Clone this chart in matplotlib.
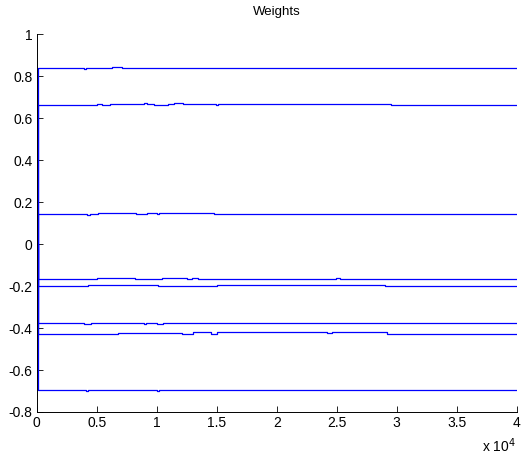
import matplotlib
matplotlib.use("Agg")
import matplotlib.pyplot as plt

plt.rcParams['font.family'] = ['Liberation Sans', 'DejaVu Sans']

# step breakpoints (iteration, weight)
w1_x = [0, 80, 3950, 4100, 6250, 7100, 40000]
w1_y = [0.0, 0.838, 0.835, 0.838, 0.842, 0.838, 0.838]

w2_x = [0, 80, 5000, 5400, 6100, 8900, 9200, 9800, 10900, 11400, 12200, 14900, 15100, 29500, 40000]
w2_y = [0.0, 0.665, 0.669, 0.664, 0.669, 0.671, 0.669, 0.665, 0.669, 0.671, 0.669, 0.665, 0.669, 0.664, 0.664]

w3_x = [0, 80, 4200, 4400, 5100, 8300, 9200, 10000, 10200, 14800, 40000]
w3_y = [0.0, 0.143, 0.140, 0.143, 0.148, 0.143, 0.148, 0.144, 0.148, 0.143, 0.143]

w4_x = [0, 80, 5000, 8200, 10400, 12500, 12900, 13400, 24900, 25300, 40000]
w4_y = [0.0, -0.167, -0.162, -0.167, -0.162, -0.167, -0.162, -0.168, -0.163, -0.168, -0.168]

w5_x = [0, 80, 4300, 4500, 10100, 15000, 29000, 40000]
w5_y = [0.0, -0.200, -0.197, -0.195, -0.200, -0.193, -0.200, -0.200]

w6_x = [0, 80, 3900, 4500, 8900, 9100, 10000, 10500, 40000]
w6_y = [0.0, -0.378, -0.383, -0.378, -0.382, -0.378, -0.383, -0.378, -0.378]

w7_x = [0, 80, 6100, 6800, 12100, 13000, 14500, 15000, 24200, 24600, 29200, 40000]
w7_y = [0.0, -0.426, -0.430, -0.424, -0.430, -0.421, -0.427, -0.420, -0.425, -0.420, -0.426, -0.426]

w8_x = [0, 80, 4100, 4300, 6400, 6600, 10000, 10200, 40000]
w8_y = [0.0, -0.695, -0.699, -0.695, -0.693, -0.695, -0.699, -0.695, -0.695]

xtick_vals = [0, 5000, 10000, 15000, 20000, 25000, 30000, 35000, 40000]
xtick_labels = ['0', '0.5', '1', '1.5', '2', '2.5', '3', '3.5', '4']
ytick_vals = [-0.8, -0.6, -0.4, -0.2, 0, 0.2, 0.4, 0.6, 0.8, 1]
ytick_labels = ['-0.8', '-0.6', '-0.4', '-0.2', '0', '0.2', '0.4', '0.6', '0.8', '1']

fig = plt.figure(figsize=(5.23, 4.59), dpi=100)
ax = fig.add_axes([0.0702, 0.1024, 0.9178, 0.8229])

for xs, ys in [(w1_x, w1_y), (w2_x, w2_y), (w3_x, w3_y), (w4_x, w4_y),
               (w5_x, w5_y), (w6_x, w6_y), (w7_x, w7_y), (w8_x, w8_y)]:
    ax.plot(xs, ys, color='#0000ff', lw=0.9, drawstyle='steps-post')

ax.set_xlim(0, 40000)
ax.set_ylim(-0.8, 1)
ax.set_xticks(xtick_vals)
ax.set_xticklabels(xtick_labels)
ax.set_yticks(ytick_vals)
ax.set_yticklabels(ytick_labels)
ax.tick_params(direction='in', length=4, width=0.6, labelsize=10, pad=3, colors='black')
ax.spines['top'].set_visible(False)
ax.spines['right'].set_visible(False)
for s in ['left', 'bottom']:
    ax.spines[s].set_linewidth(0.7)

ax.set_title('Weights', fontsize=9.5, pad=14)
fig.text(0.986, 0.008, r'x 10$^{4}$', ha='right', va='bottom', fontsize=10)

fig.savefig('out.png', dpi=100)
